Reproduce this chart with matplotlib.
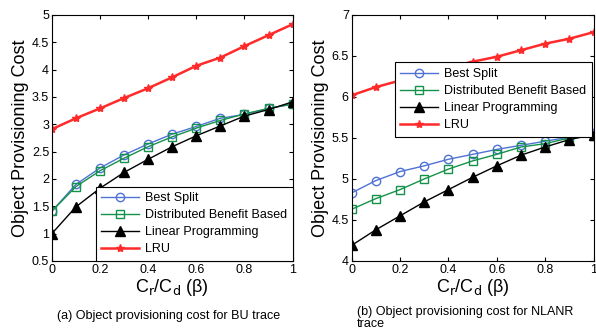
import numpy as np
import matplotlib
matplotlib.use('Agg')
import matplotlib.pyplot as plt

plt.rcParams['font.family'] = ['Liberation Sans', 'DejaVu Sans']

beta = [0, 0.1, 0.2, 0.3, 0.4, 0.5, 0.6, 0.7, 0.8, 0.9, 1.0]
names = ['Best Split', 'Distributed Benefit Based', 'Linear Programming', 'LRU']

# (a) BU trace
bu_best = [1.41, 1.90, 2.20, 2.44, 2.64, 2.82, 2.96, 3.11, 3.18, 3.29, 3.37]
bu_dbb = [1.41, 1.86, 2.15, 2.38, 2.59, 2.77, 2.93, 3.07, 3.19, 3.29, 3.37]
bu_lp = [1.00, 1.49, 1.83, 2.12, 2.36, 2.59, 2.79, 2.97, 3.15, 3.27, 3.41]
bu_lru = [2.91, 3.11, 3.29, 3.48, 3.66, 3.86, 4.07, 4.22, 4.43, 4.63, 4.83]

# (b) NLANR trace
nl_best = [4.83, 4.98, 5.09, 5.16, 5.24, 5.30, 5.36, 5.41, 5.46, 5.51, 5.56]
nl_dbb = [4.63, 4.76, 4.87, 5.00, 5.12, 5.22, 5.30, 5.39, 5.43, 5.50, 5.52]
nl_lp = [4.19, 4.38, 4.55, 4.72, 4.87, 5.02, 5.16, 5.29, 5.39, 5.48, 5.54]
nl_lru = [6.02, 6.12, 6.20, 6.28, 6.36, 6.43, 6.49, 6.57, 6.65, 6.71, 6.79]

styles = [dict(color='#4f72d4', marker='o', mfc='none', ms=6, lw=1),
          dict(color='#14924a', marker='s', mfc='none', ms=6, lw=1),
          dict(color='black', marker='^', mfc='black', ms=7, lw=1),
          dict(color='#ff2a2a', marker='*', mfc='#ff2a2a', ms=6, lw=1.8)]

fig = plt.figure(figsize=(5.96, 3.32), dpi=100)
ax1 = fig.add_axes([0.087, 0.214, 0.404, 0.741])
ax2 = fig.add_axes([0.590, 0.214, 0.406, 0.741])


def draw(ax, series, ylim, yticks, legend_loc):
    for s, st, name in zip(series, styles, names):
        ax.plot(beta, s, label=name, **st)
    ax.set_xlim(0, 1)
    ax.set_ylim(*ylim)
    ax.set_xticks([0, 0.2, 0.4, 0.6, 0.8, 1])
    ax.set_xticklabels(['0', '0.2', '0.4', '0.6', '0.8', '1'])
    ax.set_yticks(yticks)
    ax.set_yticklabels(['%g' % t for t in yticks])
    ax.tick_params(direction='in', top=True, right=True, labelsize=9, length=3, pad=2)
    ax.set_ylabel('Object Provisioning Cost', fontsize=13, labelpad=2)
    ax.set_xlabel(r'C$_\mathrm{r}$/C$_\mathrm{d}$ (β)', fontsize=13, labelpad=1)
    leg = ax.legend(fontsize=9, fancybox=False, edgecolor='black',
                    framealpha=1, handlelength=3, handletextpad=0.5,
                    borderaxespad=0, bbox_to_anchor=legend_loc,
                    loc='lower right', labelspacing=0.4, borderpad=0.45)
    leg.get_frame().set_linewidth(0.8)


draw(ax1, [bu_best, bu_dbb, bu_lp, bu_lru], (0.5, 5),
     [0.5, 1, 1.5, 2, 2.5, 3, 3.5, 4, 4.5, 5], (1.0, 0.0))
draw(ax2, [nl_best, nl_dbb, nl_lp, nl_lru], (4, 7),
     [4, 4.5, 5, 5.5, 6, 6.5, 7], (0.992, 0.505))

fig.text(0.282, 0.048, '(a) Object provisioning cost for BU trace',
         fontsize=9, ha='center', va='center')
fig.text(0.599, 0.042, '(b) Object provisioning cost for NLANR\ntrace',
         fontsize=9, ha='left', va='center', linespacing=1.0)

fig.savefig('out.png', dpi=100)
